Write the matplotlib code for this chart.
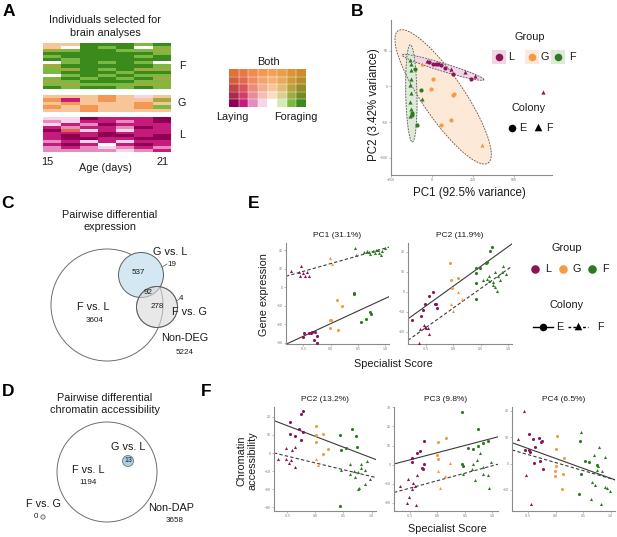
import numpy as np
import matplotlib.pyplot as plt
from matplotlib.patches import Circle, Rectangle
from matplotlib.colors import to_rgb

plt.rcParams["font.family"] = ["Liberation Sans", "DejaVu Sans"]

W, H = 617, 537
COLORS = {"L": "#8c1457", "G": "#f59a45", "F": "#2e7a22"}
FILLS = {"L": "#efd6e2", "G": "#fde9d8", "F": "#dfe9da"}
MARKERS = {"E": "o", "F": "^"}

# ---------------- A: behaviour heatmap ----------------
age_labels = ["15", "21"]
base_row = ["#8e0152", "#c51b7d", "#e48cbd", "#f7d4e8", "#ffffff",
            "#d2ebb6", "#7cb942", "#3a8a1c"]
both_levels = [0.0, 0.3, 0.5, 0.68, 0.82]
orange = "#f28c33"
cell_code = {"M": (0, 0), "m": (0, 1), "p": (0, 2), "q": (0, 3), "w": (0, 4),
             "l": (1, 6), "g": (0, 6), "D": (0, 7), "c": (2, 4), "o": (4, 3),
             "r": (3, 1)}
heat_F = ["ccDDDgD", "cwDgDwg", "lgDDggl", "DDDDDDg", "gDDDDgD",
          "DgDDDDD", "wgDgDgw", "lDDDDDg", "glDgDll", "gDDDgDD",
          "wgDgDgg", "gDgDgDl", "lgDDDgg", "glgggll", "DgDDgDg"]
heat_G = ["cccocqc", "omcoccl", "cocccoc", "ococcog", "ccocccc"]
heat_L = ["qqMmmmM", "pqmmpmM", "qmpMmmm", "mpmmpMm", "Mrqmqmm",
          "mmmMmmm", "mMmMMmM", "mMMmmMM", "pmqmqmm", "mMmwmMm",
          "pmpqpmp", "ppppqpm"]

# ---------------- B: PCA ----------------
b_L_x = [-30, -20, 6, 20, 37, 51, 75, 112, 128, 199, 234, 258, 675]
b_L_y = [35, 34, 31, 32, 31, 30, 26, 24, 18, 20, 11, 14, -8]
b_L_col = "FEEEEEEFEFEFF"
b_G_x = [-61, 4, -6, 132, 127, 55, 112, 305]
b_G_y = [31, 10, -3, -10, -12, -54, -47, -82]
b_G_col = "FEEEEEEF"
b_F_x = [-136, -128, -132, -108, -132, -136, -132, -136, -132, -126, -136,
         -122, -96, -67, -65]
b_F_y = [37.5, 31.5, 22.7, 24.5, 10.6, 1.4, -9.7, -21.8, -31, -37.5, -42,
         -40, -54, -5, -17]
b_F_col = "FFFEFFFFFEFEEEF"
# 95% group ellipses: centre, then two conjugate semi-axes (data units)
ell_centre = {"G": (66, -14.6), "L": (65, 26.8), "F": (-128, -9.7)}
ell_axis1 = {"G": (274, -92.6), "L": (249, -17.4), "F": (6, -68)}
ell_axis2 = {"G": (106, 16.2), "L": (7.1, 5.3), "F": (34, 0)}

# ---------------- C / D: Venn counts ----------------
deg_counts = {"G_only": 537, "GL_FG": 92, "FG_only": 278, "G_edge": 19,
              "FG_edge": 4, "FL": 3604, "non": 5224}
dap_counts = {"GL": 13, "FL": 1194, "FG": 0, "non": 3658}

# ---------------- E: gene expression PCs ----------------
e1_x = ([-0.72, -0.59, -0.54, -0.506, -0.463, -0.43, -0.395, -0.568]
        + [-0.013, 0.018]
        + [0.45, 0.46, 0.617, 0.667, 0.71, 0.77, 0.815, 0.864, 0.895, 0.938,
           1.0, 0.92, 0.83, 0.73]
        + [-0.494, -0.506, -0.4, -0.34, -0.296, -0.31, -0.26, -0.25, -0.37]
        + [0.124, 0.216, -0.013, 0.0, -0.013, 0.136]
        + [0.42, 0.43, 0.55, 0.65, 0.73, 0.74])
e1_y = ([8.5, 7.9, 11.5, 7.6, 6.1, 7.9, 6.1, 6.1]
        + [15.7, 12.4]
        + [21.1, 17.5, 18.8, 19.4, 19.0, 19.4, 18.5, 20.2, 18.5, 19.4, 21.1,
           17.1, 20.2, 18.1]
        + [-24.9, -27, -24.5, -24, -24, -28.5, -26.3, -29.9, -25]
        + [-7.2, -10.1, -18, -17.7, -22.2, -23.1]
        + [-3, -3.9, -18.6, -17.3, -13.7, -14.6])
e1_grp = "L" * 8 + "G" * 2 + "F" * 14 + "L" * 9 + "G" * 6 + "F" * 6
e1_col = "F" * 24 + "E" * 21

e2_x = ([-0.58, -0.54, -0.52, -0.43, -0.364, -0.33, -0.31, -0.29, -0.754]
        + [-0.537, -0.52, -0.49, -0.46, -0.6, -0.44, -0.617]
        + [-0.061, -0.043, 0.093, -0.024]
        + [0.08, -0.043, -0.01, 0.17]
        + [0.667, 0.70, 0.59, 0.62, 0.41, 0.41, 0.48, 0.42, 0.42]
        + [0.54, 0.62, 0.65, 0.76, 0.82, 0.88, 0.91, 0.96, 0.86, 0.73, 0.76,
           0.79, 0.65, 0.72])
e2_y = ([-12.2, -9.2, -5.8, -2.2, 0.0, -5.8, -5.8, -7.8, -14.2]
        + [-16.7, -17.5, -17.8, -18.0, -18.4, -21.2, -25.5]
        + [14.2, 5.8, 7.0, 1.7]
        + [-0.3, -5.8, -9.5, -3.3]
        + [20.5, 22.2, 14.5, 14.7, 12, 9.5, 12, 4.5, -3.3]
        + [5.9, 6.2, 8, 10, 8, 10, 12.9, 8.7, 5.9, 4.7, 2.2, 0.5, 5.2, 3.5])
e2_grp = "L" * 16 + "G" * 8 + "F" * 23
e2_col = "E" * 9 + "F" * 7 + "E" * 4 + "F" * 4 + "E" * 9 + "F" * 14

# ---------------- F: chromatin accessibility PCs ----------------
f1_x = ([-0.26, -0.23, -0.45, -0.30, -0.45, -0.36, -0.23, -0.26]
        + [-0.52, -0.41, -0.37, -0.66, -0.52, -0.43, -0.48, -0.37]
        + [0.013, 0.14, 0.013, 0.013, 0.22, 0.13]
        + [0.007, 0.05]
        + [0.44, 0.65, 0.72, 0.55, 0.74, 0.44, 0.46]
        + [0.62, 0.46, 0.62, 0.68, 0.75, 0.82, 0.82, 0.89, 0.7, 0.77, 0.76,
           0.88, 0.97, 0.92])
f1_y = ([21.8, 23.1, 17, 13.4, 10.7, 9.6, 11.4, 7.0]
        + [3, 1.5, 3.3, -3.1, -3.1, -4, -5.5, -7.7]
        + [15.1, 10.7, 9.7, 6, 2.2, -0.4]
        + [-3.4, -6.4]
        + [9.7, 13.4, 9.5, 2.8, 3.5, -29.3, 1.5]
        + [-5.9, -9.2, -11.4, -9.9, -10.3, -5.9, -8.1, -9.6, -13, -19.3, -19.8,
           -16.9, -14.5, -4.5])
f1_grp = "L" * 16 + "G" * 8 + "F" * 21
f1_col = "E" * 8 + "F" * 8 + "E" * 6 + "F" * 2 + "E" * 7 + "F" * 14

f2_x = ([-0.47, -0.46, -0.37, -0.32, -0.24, -0.26, -0.24, -0.28]
        + [-0.68, -0.54, -0.44, -0.40, -0.46, -0.52, -0.55, -0.39, -0.37]
        + [0.013, 0.146, 0.0, 0.013]
        + [0.22, 0.013, 0.13, 0.04]
        + [0.447, 0.74, 0.56, 0.65, 0.74, 0.82, 0.91, 0.45, 0.47]
        + [0.78, 0.64, 0.71, 0.63, 0.82, 0.69, 0.83, 0.91, 0.98, 0.94, 0.46])
f2_y = ([1.4, 3.6, 6, 6.9, 12.3, -2.4, 0.2, -2.0]
        + [-11.3, -7.3, -9.4, -11.3, -13, -16.8, -20.3, -21.4, -5.5]
        + [11.8, 13.9, 5.3, 3.1]
        + [1.0, -3.5, -6.1, -12.5]
        + [27.8, 18.5, 8.8, 8.3, 9.7, 11.4, 12.3, 0.5, -0.5]
        + [6.2, 0.2, 2.3, -2.3, -1.5, -7.9, -5, -5.5, 1.4, -12.2, -5])
f2_grp = "L" * 17 + "G" * 8 + "F" * 20
f2_col = "E" * 8 + "F" * 9 + "E" * 4 + "F" * 4 + "E" * 9 + "F" * 11

f3_x = ([-0.476, -0.41, -0.30, -0.24, -0.27, -0.37, -0.55, -0.49, -0.47,
         -0.22, -0.29, -0.39]
        + [-0.57, -0.69, -0.53, -0.45]
        + [0.033, 0.0, 0.16, 0.0, -0.01, -0.01, 0.14, 0.12]
        + [0.445, 0.43, 0.54, 0.61, 0.76, 0.47]
        + [0.46, 0.79, 0.70, 0.9, 0.78, 0.84, 0.75, 0.66, 0.71, 0.65, 0.83,
           0.9, 0.94, 0.99])
f3_y = ([11.4, 9.2, 9.7, 8.6, 8.3, 6.3, 5.3, 5.0, 4.4, -2.2, 0.9, 0.4]
        + [19.8, 9.2, -4.4, -15.2]
        + [10.4, 5.4, 2.1, -1, -2.8, -4.7, -3.8, -9.5]
        + [8.5, -11.4, 0.9, 0.6, -0.4, -4.1]
        + [12, 6.3, 3.3, 2.5, -0.8, -2.8, -2.5, -7, -8.3, -13.5, -15.3, -9,
           -9.4, -10.3])
f3_grp = "L" * 16 + "G" * 8 + "F" * 20
f3_col = "E" * 12 + "F" * 4 + "E" * 8 + "E" * 6 + "F" * 14

x_ticks = [-0.5, 0.0, 0.5, 1.0]
x_ticklabels = ["-0.5", "0.0", "0.5", "1.0"]

# =====================================================
fig = plt.figure(figsize=(W / 100, H / 100), dpi=100)
ov = fig.add_axes([0, 0, 1, 1])
ov.set_xlim(0, W)
ov.set_ylim(H, 0)
ov.axis("off")


def add_ax(x0, y0, x1, y1):
    ax = fig.add_axes([x0 / W, 1 - y1 / H, (x1 - x0) / W, (y1 - y0) / H])
    ax.set_facecolor("none")
    return ax


def txt(x, y, s, size=7.8, **kw):
    kw.setdefault("ha", "center")
    kw.setdefault("va", "center")
    ov.text(x, y, s, fontsize=size, color="#1a1a1a", **kw)


# panel letters
for letter, (lx, ly) in {"A": (9, 12), "B": (357, 11), "C": (8, 203),
                         "D": (8, 392), "E": (254, 204),
                         "F": (206, 392)}.items():
    ov.text(lx, ly, letter, fontsize=12.5, fontweight="bold", ha="center",
            va="center")

# ---------- A ----------
orange_rgb = np.array(to_rgb(orange))
palette = np.array([[(1 - t) * np.array(to_rgb(c)) + t * orange_rgb
                     for c in base_row] for t in both_levels])


def block_rgb(rows):
    return np.array([[palette[cell_code[ch]] for ch in r] for r in rows])


for rows, (y0, y1), lab in [(heat_F, (43, 89), "F"), (heat_G, (95, 112), "G"),
                            (heat_L, (117, 152), "L")]:
    ax = add_ax(43, y0, 171, y1)
    ax.imshow(block_rgb(rows), aspect="auto", interpolation="nearest")
    ax.axis("off")
    txt(182, (y0 + y1) / 2, lab)

txt(105, 26.5, "Individuals selected for\nbrain analyses", linespacing=1.3)
txt(47, 162, age_labels[0])
txt(163, 162, age_labels[1])
txt(105, 168, "Age (days)")

axk = add_ax(229, 69, 306, 107)
key = palette.copy()
key[0, 4] = 1.0  # blank notch in the key
axk.imshow(key, origin="lower", aspect="auto", interpolation="nearest")
for i in range(1, palette.shape[1]):
    axk.axvline(i - 0.5, color="white", lw=0.3)
for i in range(1, palette.shape[0]):
    axk.axhline(i - 0.5, color="white", lw=0.3)
axk.axis("off")
txt(268, 62, "Both")
txt(232, 117, "Laying")
txt(296, 117, "Foraging")

# ---------- B ----------
axB = add_ax(391, 20, 552, 175)
t = np.linspace(0, 2 * np.pi, 200)
for g in ["G", "L", "F"]:
    cx, cy = ell_centre[g]
    a1, a2 = np.array(ell_axis1[g]), np.array(ell_axis2[g])
    ex = cx + a1[0] * np.cos(t) + a2[0] * np.sin(t)
    ey = cy + a1[1] * np.cos(t) + a2[1] * np.sin(t)
    axB.fill(ex, ey, color=FILLS[g], zorder=1)
    axB.plot(ex, ey, color="#555555", ls=(0, (2, 1.5)), lw=0.6, zorder=2)
for g, xs, ys, cs in [("L", b_L_x, b_L_y, b_L_col),
                      ("G", b_G_x, b_G_y, b_G_col),
                      ("F", b_F_x, b_F_y, b_F_col)]:
    xs, ys = np.array(xs), np.array(ys)
    for c in "EF":
        m = np.array([ch == c for ch in cs])
        axB.scatter(xs[m], ys[m], s=9, marker=MARKERS[c], color=COLORS[g],
                    linewidths=0, zorder=3)
axB.set_xlim(-252, 730)
axB.set_ylim(-124, 93)
axB.set_xticks([-250, 0, 250, 500])
axB.set_yticks([-100, -50, 0, 50])
for s in ["top", "right"]:
    axB.spines[s].set_visible(False)
for s in ["left", "bottom"]:
    axB.spines[s].set_color("#8a8a8a")
    axB.spines[s].set_linewidth(0.8)
axB.tick_params(length=1.5, width=0.4, color="#8a8a8a", labelsize=2.5,
                labelcolor="#777777", pad=1)
txt(374, 105, "PC2 (3.42% variance)", size=8.3, rotation=90)
txt(469, 193, "PC1 (92.5% variance)", size=8.3)

txt(530, 37, "Group")
for g, mx, lx in [("L", 499, 511), ("G", 532, 545), ("F", 558, 572)]:
    ov.add_patch(Rectangle((mx - 7, 50), 14, 14, color=FILLS[g], lw=0))
    ov.scatter([mx], [57], s=30, color=COLORS[g], linewidths=0)
    txt(lx, 57, g)
txt(529, 108, "Colony")
ov.scatter([512], [128], s=30, marker="o", color="black", linewidths=0)
txt(523, 128, "E")
ov.scatter([538], [127], s=30, marker="^", color="black", linewidths=0)
txt(549, 128, "F")

# ---------- C ----------
txt(110, 221, "Pairwise differential\nexpression", linespacing=1.35)
ov.add_patch(Circle((107, 305), 56, fill=False, ec="#6e6e6e", lw=0.7))
ov.add_patch(Circle((141, 275), 22.5, fc="#d3e8f2", ec="#5e5e5e", lw=0.7))
ov.add_patch(Circle((157, 307), 20.5, fc="#d9d9d9", ec="#5e5e5e", lw=0.7,
                    alpha=0.6))
ov.add_patch(Circle((157, 307), 20.5, fill=False, ec="#5e5e5e", lw=0.7))
txt(138, 272, str(deg_counts["G_only"]), size=5.8)
txt(148, 292, str(deg_counts["GL_FG"]), size=5.8)
txt(157, 307, str(deg_counts["FG_only"]), size=5.8)
txt(170, 252, "G vs. L")
ov.plot([162, 167], [267, 264], color="#555555", lw=0.5)
txt(172, 264, str(deg_counts["G_edge"]), size=5.8)
ov.plot([176, 179], [301, 299.5], color="#555555", lw=0.5)
txt(181, 299, str(deg_counts["FG_edge"]), size=5.8)
txt(189, 312, "F vs. G")
txt(93, 307, "F vs. L")
txt(95, 320, str(deg_counts["FL"]), size=5.8)
txt(185, 338, "Non-DEG")
txt(185, 352, str(deg_counts["non"]), size=5.8)

# ---------- D ----------
txt(105, 404, "Pairwise differential\nchromatin accessibility", linespacing=1.35)
ov.add_patch(Circle((107, 472), 50, fill=False, ec="#6e6e6e", lw=0.7))
ov.add_patch(Circle((128, 461), 5.5, fc="#a9d0e2", ec="#5e5e5e", lw=0.5))
txt(128, 461, str(dap_counts["GL"]), size=5)
txt(128, 447, "G vs. L")
txt(88, 470, "F vs. L")
txt(88, 483, str(dap_counts["FL"]), size=5.8)
txt(43, 504, "F vs. G")
txt(36, 517, str(dap_counts["FG"]), size=5.8)
ov.add_patch(Circle((43, 517), 2.2, fc="#dddddd", ec="#5e5e5e", lw=0.5))
txt(171, 508, "Non-DAP")
txt(175, 520, str(dap_counts["non"]), size=5.8)


# ---------- E / F scatter panels ----------
def score_panel(box, xs, ys, grp, col, xlim, ylim, yticks, title):
    ax = add_ax(*box)
    xs, ys = np.array(xs), np.array(ys)
    gs = np.array(list(grp))
    cs = np.array(list(col))
    for g in "LGF":
        for c in "EF":
            m = (gs == g) & (cs == c)
            ax.scatter(xs[m], ys[m], s=5, marker=MARKERS[c], color=COLORS[g],
                       linewidths=0, zorder=3)
    xx = np.array(xlim)
    for c, ls in [("E", "-"), ("F", (0, (3, 2)))]:
        m = cs == c
        k, b = np.polyfit(xs[m], ys[m], 1)
        ax.plot(xx, k * xx + b, color="#3a3a3a", lw=0.8, ls=ls, zorder=2)
    ax.set_xlim(xlim)
    ax.set_ylim(ylim)
    ax.set_xticks(x_ticks)
    ax.set_xticklabels(x_ticklabels)
    ax.set_yticks(yticks)
    for s in ["top", "right"]:
        ax.spines[s].set_visible(False)
    for s in ["left", "bottom"]:
        ax.spines[s].set_color("#8a8a8a")
        ax.spines[s].set_linewidth(0.8)
    ax.tick_params(length=1.5, width=0.4, color="#8a8a8a", labelsize=2.5,
                   labelcolor="#777777", pad=1)
    ax.set_title(title, fontsize=6, pad=4, color="#1a1a1a")
    return ax


score_panel((286, 243, 389, 344), e1_x, e1_y, e1_grp, e1_col, (-0.82, 1.07),
            (-30.7, 23.8), [-30, -20, -10, 0, 10, 20], "PC1 (31.1%)")
score_panel((408, 243, 512, 344), e2_x, e2_y, e2_grp, e2_col, (-0.82, 1.07),
            (-26, 24.4), [-20, -10, 0, 10, 20], "PC2 (11.9%)")
txt(264, 295, "Gene expression", rotation=90)
txt(393, 364, "Specialist Score")

txt(567, 248, "Group")
for g, mx, lx in [("L", 535, 548), ("G", 563, 577), ("F", 592, 605)]:
    ov.scatter([mx], [269], s=38, color=COLORS[g], linewidths=0)
    txt(lx, 269, g)
txt(567, 305, "Colony")
ov.plot([533, 553], [327, 327], color="black", lw=1)
ov.scatter([543], [327], s=30, marker="o", color="black", linewidths=0)
txt(560, 327, "E")
ov.plot([568, 588], [327, 327], color="black", lw=1, ls=(0, (2, 1.5)))
ov.scatter([578], [326], s=30, marker="^", color="black", linewidths=0)
txt(600, 327, "F")

score_panel((274, 407, 376, 511), f1_x, f1_y, f1_grp, f1_col, (-0.74, 1.08),
            (-32, 25.4), [-30, -20, -10, 0, 10, 20], "PC2 (13.2%)")
score_panel((394, 407, 498, 511), f2_x, f2_y, f2_grp, f2_col, (-0.79, 1.10),
            (-24.3, 30.2), [-20, -10, 0, 10, 20, 30], "PC3 (9.8%)")
score_panel((512, 407, 615, 511), f3_x, f3_y, f3_grp, f3_col, (-0.79, 1.08),
            (-18, 21.5), [-10, 0, 10, 20], "PC4 (6.5%)")
txt(247, 461, "Chromatin\naccessibility", rotation=90, linespacing=1.1)
txt(447, 529, "Specialist Score")

fig.savefig("out.png", dpi=100)
